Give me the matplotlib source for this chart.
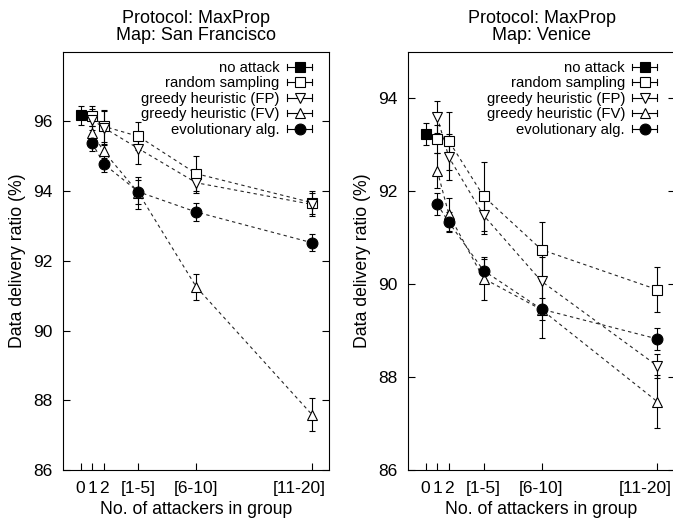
import matplotlib
matplotlib.use('Agg')
from matplotlib import pyplot as plt
from matplotlib import transforms
from matplotlib.legend_handler import HandlerBase
from matplotlib.lines import Line2D

plt.rcParams['font.family'] = ['Liberation Sans', 'DejaVu Sans']
plt.rcParams['axes.linewidth'] = 0.8


x_none = [0]
x_group = [1, 2, 5, 10, 20]
xtick_pos = [0, 1, 2, 5, 10, 20]
xtick_labels = ['0', '1', '2', '[1-5]', '[6-10]', '[11-20]']

labels = ['no attack', 'random sampling', 'greedy heuristic (FP)',
          'greedy heuristic (FV)', 'evolutionary alg.']

# Map: San Francisco
sf_none = [96.17]
sf_none_err = [0.27]
sf_random = [96.15, 95.86, 95.57, 94.50, 93.67]
sf_random_err = [0.28, 0.45, 0.40, 0.50, 0.33]
sf_fp = [96.05, 95.82, 95.22, 94.24, 93.62]
sf_fp_err = [0.30, 0.50, 0.43, 0.30, 0.33]
sf_fv = [95.67, 95.14, 93.95, 91.25, 87.59]
sf_fv_err = [0.20, 0.20, 0.45, 0.36, 0.47]
sf_evo = [95.38, 94.78, 93.98, 93.40, 92.52]
sf_evo_err = [0.24, 0.23, 0.35, 0.25, 0.25]

# Map: Venice
ve_none = [93.23]
ve_none_err = [0.23]
ve_random = [93.12, 93.08, 91.89, 90.74, 89.88]
ve_random_err = [0.30, 0.62, 0.74, 0.59, 0.49]
ve_fp = [93.59, 92.73, 91.48, 90.06, 88.24]
ve_fp_err = [0.34, 0.50, 0.40, 0.52, 0.25]
ve_fv = [92.44, 91.50, 90.12, 89.45, 87.47]
ve_fv_err = [0.37, 0.35, 0.46, 0.62, 0.57]
ve_evo = [91.72, 91.33, 90.29, 89.46, 88.82]
ve_evo_err = [0.24, 0.22, 0.25, 0.23, 0.24]


STYLES = [
    dict(marker='s', markersize=7.6, markerfacecolor='black'),
    dict(marker='s', markersize=6.5, markerfacecolor='white'),
    dict(marker='v', markersize=7.2, markerfacecolor='white'),
    dict(marker='^', markersize=7.2, markerfacecolor='white'),
    dict(marker='o', markersize=7.8, markerfacecolor='black'),
]


class ErrorKey(HandlerBase):
    # gnuplot-like key sample: |--marker--|
    def create_artists(self, legend, orig_handle, xdescent, ydescent,
                       width, height, fontsize, trans):
        y = (height - ydescent) / 2
        x0, x1 = -xdescent, width - xdescent
        c = 2.3
        parts = [
            Line2D([x0, x1], [y, y], color='black', lw=0.8),
            Line2D([x0, x0], [y - c, y + c], color='black', lw=0.8),
            Line2D([x1, x1], [y - c, y + c], color='black', lw=0.8),
            Line2D([(x0 + x1) / 2], [y], ls='none',
                   marker=orig_handle.get_marker(),
                   markersize=orig_handle.get_markersize(),
                   markerfacecolor=orig_handle.get_markerfacecolor(),
                   markeredgecolor='black', markeredgewidth=0.8),
        ]
        for p in parts:
            p.set_transform(trans)
        return parts


def draw_panel(fig, ax, title, none_val, none_err, series, ylim, yticks):
    ax.errorbar(x_none, none_val, yerr=none_err, fmt='none', ecolor='black',
                elinewidth=0.8, capsize=2.4, capthick=0.8, zorder=2)
    ax.plot(x_none, none_val, ls='none', markeredgecolor='black',
            markeredgewidth=0.8, zorder=4, **STYLES[0])

    for i, (vals, errs) in enumerate(series):
        ax.plot(x_group, vals, color='0.15', lw=0.8, ls=(0, (3, 3)), zorder=1)
        ax.errorbar(x_group, vals, yerr=errs, fmt='none', ecolor='black',
                    elinewidth=0.8, capsize=2.4, capthick=0.8, zorder=2)
        ax.plot(x_group, vals, ls='none', markeredgecolor='black',
                markeredgewidth=0.8, zorder=3 + i * 0.1, **STYLES[i + 1])

    ax.set_xlim(-1.5, 21.5)
    ax.set_ylim(*ylim)
    ax.set_xticks(xtick_pos)
    ax.set_xticklabels(xtick_labels)
    ax.set_yticks(yticks)
    ax.tick_params(axis='x', direction='in', length=5, width=0.8,
                   labelsize=12.5, pad=7.8, top=False)
    ax.tick_params(axis='y', direction='in', length=5, width=0.8,
                   labelsize=12.5, pad=8, right=True)

    # last group label sits left of its tick, as in the original
    last = ax.get_xticklabels()[-1]
    last.set_horizontalalignment('right')
    last.set_transform(last.get_transform() +
                       transforms.ScaledTranslation(14 / 100, 0, fig.dpi_scale_trans))

    ax.set_title(title, fontsize=13, pad=8.5, linespacing=1.0)
    ax.set_xlabel('No. of attackers in group', fontsize=12.7, labelpad=3.5)
    ax.set_ylabel('Data delivery ratio (%)', fontsize=12.7, labelpad=5)

    handles = [Line2D([], [], **s) for s in STYLES]
    ax.legend(handles, labels, handler_map={Line2D: ErrorKey()},
              loc='upper right', bbox_to_anchor=(0.935, 0.978),
              borderaxespad=0, borderpad=0, frameon=False, markerfirst=False,
              fontsize=10.7, handlelength=1.68, handletextpad=0.5,
              labelspacing=0.1)


if __name__ == "__main__":
    fig = plt.figure(figsize=(6.73, 5.3), dpi=100)

    ax1 = fig.add_axes([63.3 / 673, 60 / 530, 266 / 673, 418.3 / 530])
    ax2 = fig.add_axes([408.3 / 673, 60 / 530, 266.4 / 673, 418.3 / 530])

    draw_panel(fig, ax1, 'Protocol: MaxProp\nMap: San Francisco', sf_none, sf_none_err,
               [(sf_random, sf_random_err), (sf_fp, sf_fp_err),
                (sf_fv, sf_fv_err), (sf_evo, sf_evo_err)],
               (86, 98), [86, 88, 90, 92, 94, 96])

    draw_panel(fig, ax2, 'Protocol: MaxProp\nMap: Venice', ve_none, ve_none_err,
               [(ve_random, ve_random_err), (ve_fp, ve_fp_err),
                (ve_fv, ve_fv_err), (ve_evo, ve_evo_err)],
               (86, 95), [86, 88, 90, 92, 94])

    fig.savefig('out.png', dpi=100)
